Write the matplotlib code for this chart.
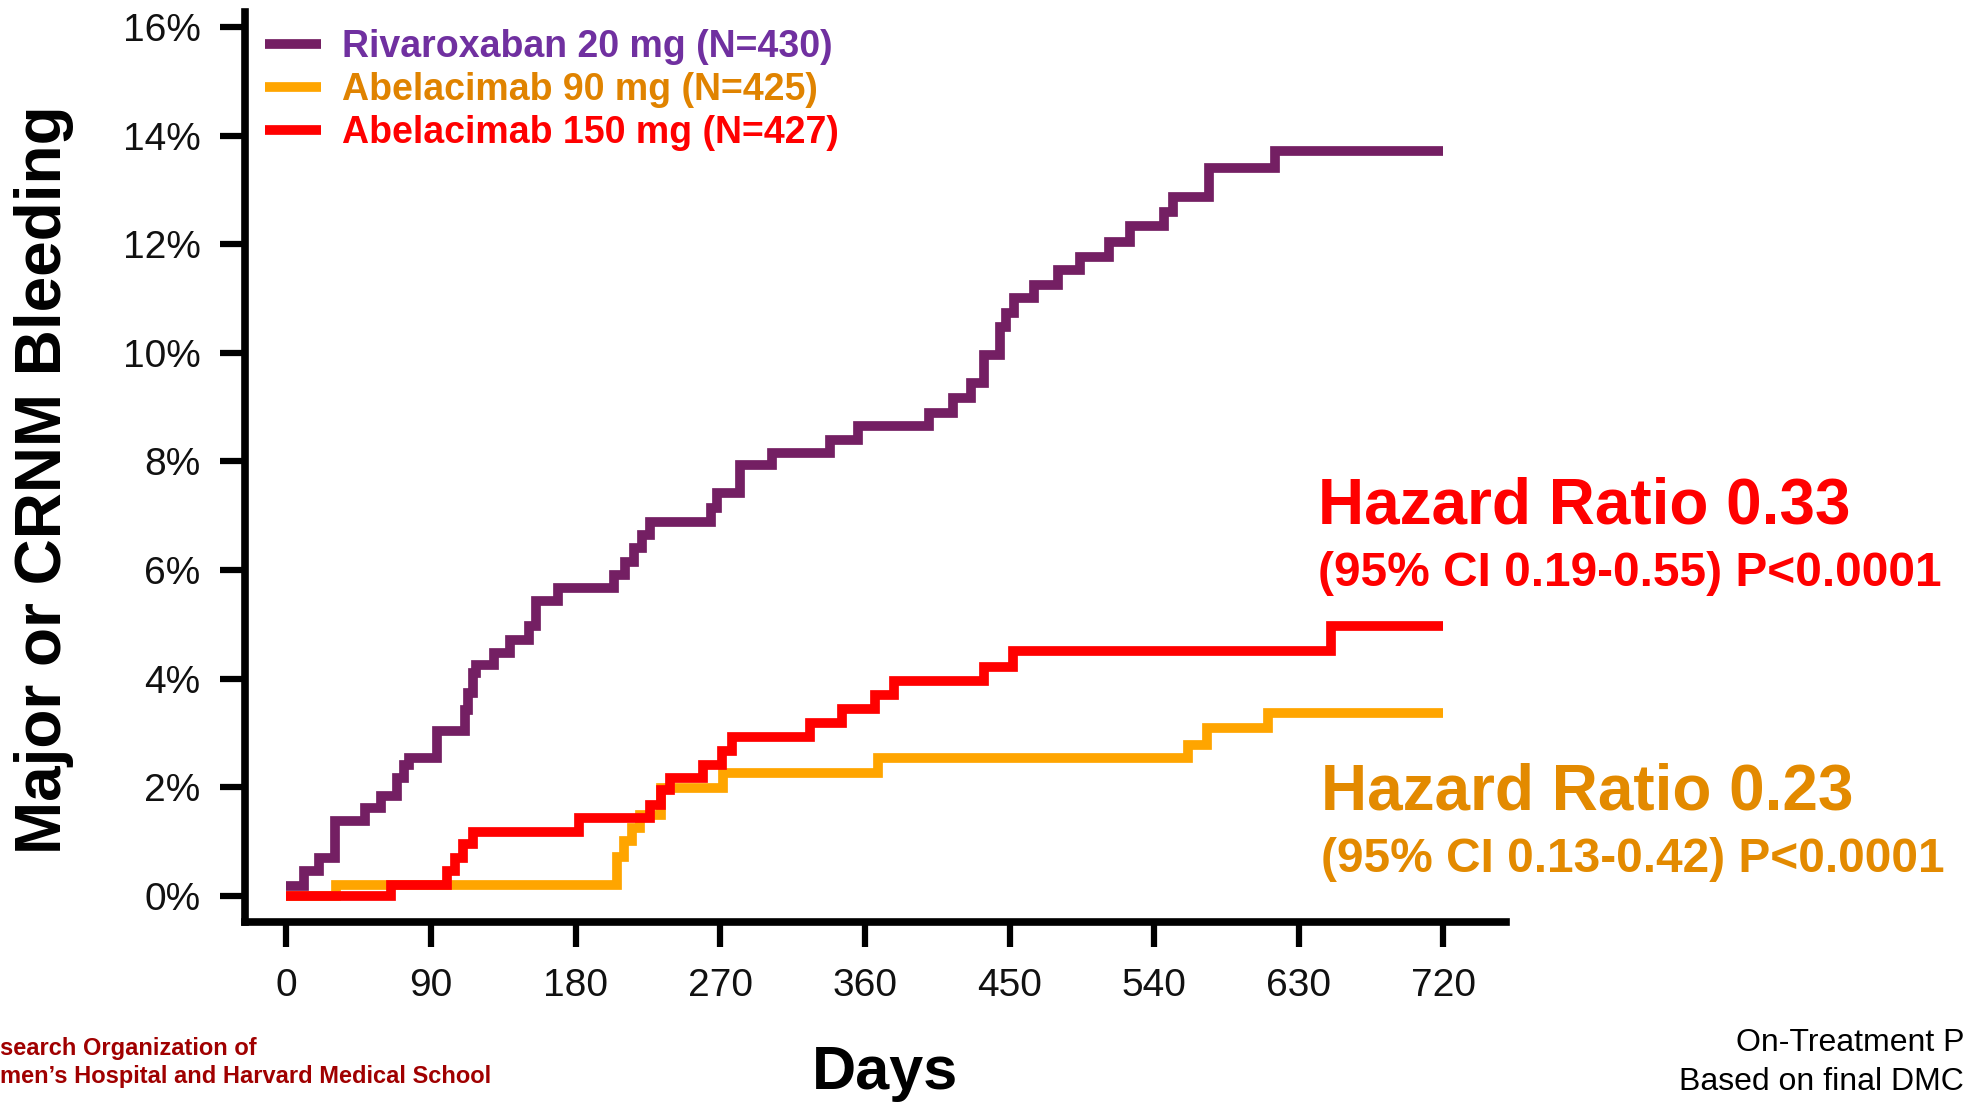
import matplotlib
matplotlib.use('Agg')
import matplotlib.pyplot as plt
from matplotlib.lines import Line2D

plt.rcParams['font.family'] = ['Liberation Sans', 'DejaVu Sans']

# ---------------- data (days, cumulative % with event) ----------------
days_riva = [0, 11, 20, 30, 49, 59, 69, 73, 76, 94, 111, 113, 116, 118, 129, 139, 151, 155, 169, 204,
             211, 216, 221, 226, 264, 268, 282, 302, 338, 356, 400, 415, 426, 434, 444, 448, 453, 465,
             480, 494, 512, 525, 546, 552, 574, 615, 720]
pct_riva = [0.17, 0.45, 0.70, 1.37, 1.62, 1.83, 2.17, 2.40, 2.54, 3.03, 3.42, 3.73, 4.10, 4.25, 4.47,
            4.71, 4.96, 5.42, 5.67, 5.91, 6.15, 6.40, 6.65, 6.89, 7.15, 7.42, 7.94, 8.16, 8.40, 8.65,
            8.90, 9.17, 9.45, 9.96, 10.48, 10.73, 11.01, 11.25, 11.53, 11.77, 12.05, 12.33, 12.60,
            12.88, 13.41, 13.71, 13.71]

days_150 = [0, 65, 100, 105, 110, 116, 182, 226, 233, 239, 259, 271, 277, 326, 346, 366, 378, 434,
            452, 650, 720]
pct_150 = [0, 0.20, 0.45, 0.70, 0.95, 1.18, 1.43, 1.67, 1.95, 2.17, 2.41, 2.66, 2.93, 3.18, 3.43,
           3.70, 3.95, 4.22, 4.50, 4.96, 4.96]

days_90 = [0, 31, 206, 210, 215, 220, 233, 272, 368, 561, 573, 611, 720]
pct_90 = [0, 0.20, 0.72, 1.00, 1.25, 1.49, 1.99, 2.26, 2.54, 2.78, 3.09, 3.37, 3.37]

series_labels = ['Rivaroxaban 20 mg (N=430)', 'Abelacimab 90 mg (N=425)', 'Abelacimab 150 mg (N=427)']
line_colors = ['#741F63', '#FFA500', '#FF0000']
text_colors = ['#7030A0', '#E08300', '#FF0000']

x_ticks = [0, 90, 180, 270, 360, 450, 540, 630, 720]
y_ticks = [0, 2, 4, 6, 8, 10, 12, 14, 16]
y_ticklabels = [f'{v}%' for v in y_ticks]

hr_150 = ['Hazard Ratio 0.33', '(95% CI 0.19-0.55) P<0.0001']
hr_90 = ['Hazard Ratio 0.23', '(95% CI 0.13-0.42) P<0.0001']

# ---------------- figure ----------------
W, H = 1968, 1105
fig = plt.figure(figsize=(W / 100, H / 100), dpi=100)
ax = fig.add_axes([245 / W, 1 - 922 / H, (1506 - 245) / W, (922 - 12) / H])

common = dict(where='post', lw=7, solid_joinstyle='miter', solid_capstyle='butt')
ax.step(days_riva, pct_riva, color=line_colors[0], zorder=3, **common)
ax.step(days_90, pct_90, color=line_colors[1], zorder=4, **common)
ax.step(days_150, pct_150, color=line_colors[2], zorder=5, **common)

ax.set_xlim(-25.8, 759)
ax.set_ylim(-0.486, 16.28)
ax.set_xticks(x_ticks)
ax.set_xticklabels([str(t) for t in x_ticks])
ax.set_yticks(y_ticks)
ax.set_yticklabels(y_ticklabels)

for s in ['top', 'right']:
    ax.spines[s].set_visible(False)
for s in ['left', 'bottom']:
    ax.spines[s].set_linewidth(5.5)
    ax.spines[s].set_color('black')

ax.tick_params(axis='both', direction='out', length=18, width=4.5, labelsize=28,
               colors='black', labelcolor='#111111')
ax.tick_params(axis='y', pad=14)
ax.tick_params(axis='x', pad=15)

# legend
handles = [Line2D([0], [0], color=c, lw=7, solid_capstyle='butt') for c in line_colors]
leg = ax.legend(handles, series_labels, loc='upper left',
                bbox_to_anchor=(265 / W, 1 - 29 / H), bbox_transform=fig.transFigure,
                frameon=False, prop={'weight': 'bold', 'size': 27},
                handlelength=1.5, handletextpad=0.55, labelspacing=0.19,
                borderpad=0, borderaxespad=0, labelcolor=text_colors)

# axis titles
fig.text(44 / W, 1 - 480 / H, 'Major or CRNM Bleeding', rotation=90, fontsize=46,
         fontweight='bold', ha='center', va='center', color='black')
fig.text(885 / W, 1 - 1073 / H, 'Days', fontsize=44, fontweight='bold',
         ha='center', va='center', color='black')

# hazard ratio annotations
fig.text(1318 / W, 1 - 524 / H, hr_150[0], fontsize=46, fontweight='bold',
         color='#FF0000', ha='left', va='baseline')
fig.text(1318 / W, 1 - 586 / H, hr_150[1], fontsize=34.5, fontweight='bold',
         color='#FF0000', ha='left', va='baseline')
fig.text(1321 / W, 1 - 810 / H, hr_90[0], fontsize=46, fontweight='bold',
         color='#E38A00', ha='left', va='baseline')
fig.text(1321 / W, 1 - 872 / H, hr_90[1], fontsize=34.5, fontweight='bold',
         color='#E38A00', ha='left', va='baseline')

# footer fragments
fig.text(0, 1 - 1048 / H, 'search Organization of', fontsize=17, fontweight='bold',
         color='#A00000', ha='left', va='center')
fig.text(0, 1 - 1077 / H, 'men\u2019s Hospital and Harvard Medical School', fontsize=17,
         fontweight='bold', color='#A00000', ha='left', va='center')
fig.text(0.998, 1 - 1043 / H, 'On-Treatment P', fontsize=23, color='black',
         ha='right', va='center')
fig.text(0.998, 1 - 1082 / H, 'Based on final DMC', fontsize=23, color='black',
         ha='right', va='center')

fig.savefig('out.png', dpi=100)
